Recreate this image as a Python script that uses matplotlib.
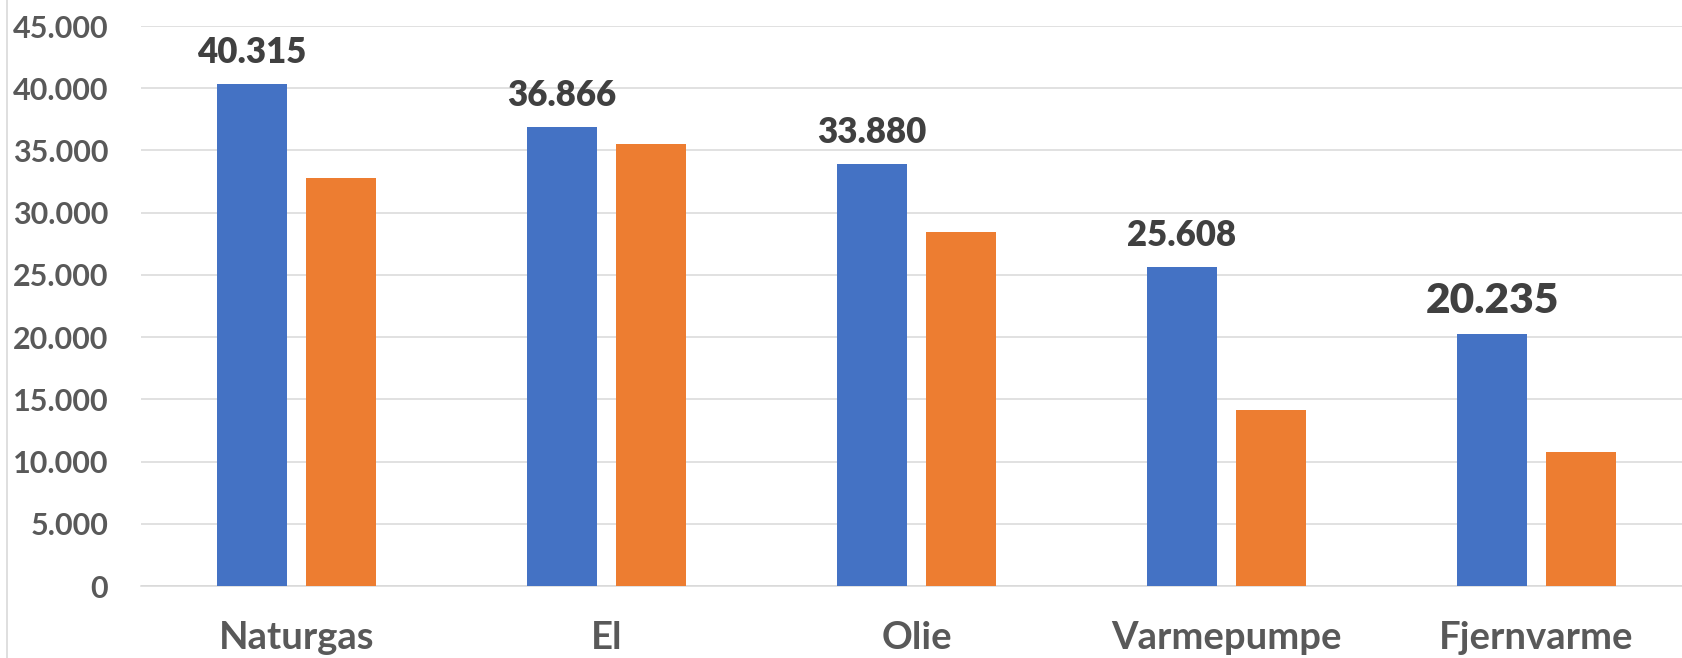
import matplotlib
matplotlib.use("Agg")
import matplotlib.pyplot as plt
from matplotlib.lines import Line2D
import numpy as np

categories = ["Naturgas", "El", "Olie", "Varmepumpe", "Fjernvarme"]
series_blue = [40315, 36866, 33880, 25608, 20235]
series_orange = [32750, 35550, 28450, 14150, 10800]
blue_labels = ["40.315", "36.866", "33.880", "25.608", "20.235"]
ytick_values = [0, 5000, 10000, 15000, 20000, 25000, 30000, 35000, 40000, 45000]
ytick_labels = ["0", "5.000", "10.000", "15.000", "20.000", "25.000",
                "30.000", "35.000", "40.000", "45.000"]

plt.rcParams['font.family'] = ['Lato', 'DejaVu Sans']

W, H, DPI = 1683, 658, 100
fig = plt.figure(figsize=(W / DPI, H / DPI), dpi=DPI)
ax = fig.add_axes([141.5 / W, 72 / H, 1550 / W, 560 / H])

x = np.arange(len(categories))
bw = 0.2258
off = 0.1435
ax.bar(x - off, series_blue, width=bw, color="#4472C4", zorder=3)
ax.bar(x + off, series_orange, width=bw, color="#ED7D31", zorder=3)

label_sizes = [25, 25, 25, 25, 30.5]
for i, (v, lab) in enumerate(zip(series_blue, blue_labels)):
    ax.annotate(lab, (x[i] - off, v), xytext=(0, 15.5), textcoords="offset points",
                ha="center", va="baseline", fontsize=label_sizes[i],
                fontweight="heavy", color="#404040", zorder=4)

ax.set_xlim(-0.5, len(categories) - 0.5)
ax.set_ylim(0, 45000)
ax.set_yticks(ytick_values)
ax.set_yticklabels(ytick_labels)
ax.set_xticks(x)
ax.set_xticklabels(categories)

ax.tick_params(axis="y", length=0, pad=24, labelsize=22, labelcolor="#595959")
ax.tick_params(axis="x", length=0, pad=25, labelsize=27.5, labelcolor="#595959")
for t in ax.get_yticklabels() + ax.get_xticklabels():
    t.set_fontweight("bold")

ax.grid(axis="y", color="#d9d9d9", linewidth=1.1, zorder=0)
ax.set_axisbelow(True)
for s in ["top", "right", "left"]:
    ax.spines[s].set_visible(False)
ax.spines["bottom"].set_color("#d9d9d9")
ax.spines["bottom"].set_linewidth(1.1)

fig.add_artist(Line2D([7 / W, 7 / W], [0, 1], transform=fig.transFigure,
                      color="#d9d9d9", linewidth=1.2))

fig.savefig("out.png", dpi=DPI, facecolor="white")
